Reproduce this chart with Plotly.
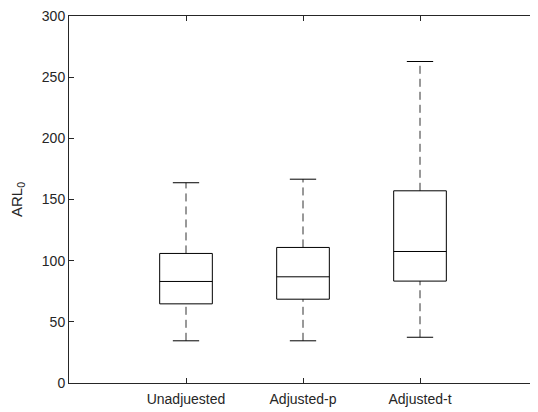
import plotly.graph_objects as go

# box plot summary per group
groups = ['Unadjuested', 'Adjusted-p', 'Adjusted-t']
positions = [1, 2, 3]
whisker_low = [34.5, 34.5, 37.4]
q1 = [64.7, 68.5, 83.3]
median = [83.0, 86.8, 107.5]
q3 = [105.9, 110.8, 157.1]
whisker_high = [163.7, 166.6, 262.8]

yticks = [0, 50, 100, 150, 200, 250, 300]

box_half = 0.225
cap_half = 0.1125
line_col = '#000000'
axis_col = '#262626'

box_x, box_y = [], []
med_x, med_y = [], []
wh_x, wh_y = [], []
cap_x, cap_y = [], []
for p, lo, a, m, b, hi in zip(positions, whisker_low, q1, median, q3, whisker_high):
    box_x += [p - box_half, p + box_half, p + box_half, p - box_half, p - box_half, None]
    box_y += [a, a, b, b, a, None]
    med_x += [p - box_half, p + box_half, None]
    med_y += [m, m, None]
    wh_x += [p, p, None, p, p, None]
    wh_y += [b, hi, None, lo, a, None]
    cap_x += [p - cap_half, p + cap_half, None, p - cap_half, p + cap_half, None]
    cap_y += [hi, hi, None, lo, lo, None]

fig = go.Figure()
fig.add_trace(go.Scatter(x=wh_x, y=wh_y, mode='lines',
                         line=dict(color='#333333', width=1, dash='8px,5px'), hoverinfo='skip'))
fig.add_trace(go.Scatter(x=cap_x, y=cap_y, mode='lines',
                         line=dict(color=line_col, width=1), hoverinfo='skip'))
fig.add_trace(go.Scatter(x=box_x, y=box_y, mode='lines',
                         line=dict(color=line_col, width=1), hoverinfo='skip'))
fig.add_trace(go.Scatter(x=med_x, y=med_y, mode='lines',
                         line=dict(color=line_col, width=1), hoverinfo='skip'))

axis_style = dict(showline=True, linecolor=axis_col, linewidth=1, mirror='ticks',
                  ticks='inside', ticklen=5, tickcolor=axis_col, showgrid=False,
                  zeroline=False, automargin=False, ticklabeloverflow='allow',
                  tickfont=dict(size=14, color=axis_col))

# the page adds an 8px body margin, so the figure is sized to sit inside the window
fig.update_layout(width=530, height=404,
                  margin=dict(l=61, r=1, t=8, b=29),
                  plot_bgcolor='white', paper_bgcolor='white',
                  showlegend=False,
                  font=dict(family='Liberation Sans, Arial, sans-serif', size=14, color=axis_col),
                  xaxis=dict(range=[0, 4], tickvals=positions, ticktext=groups,
                             ticklabelstandoff=3, **axis_style),
                  yaxis=dict(range=[0, 300], tickvals=yticks,
                             title=dict(text='ARL<sub>0</sub>', standoff=18, font=dict(size=15)),
                             **axis_style))

fig.write_html("out.html")
